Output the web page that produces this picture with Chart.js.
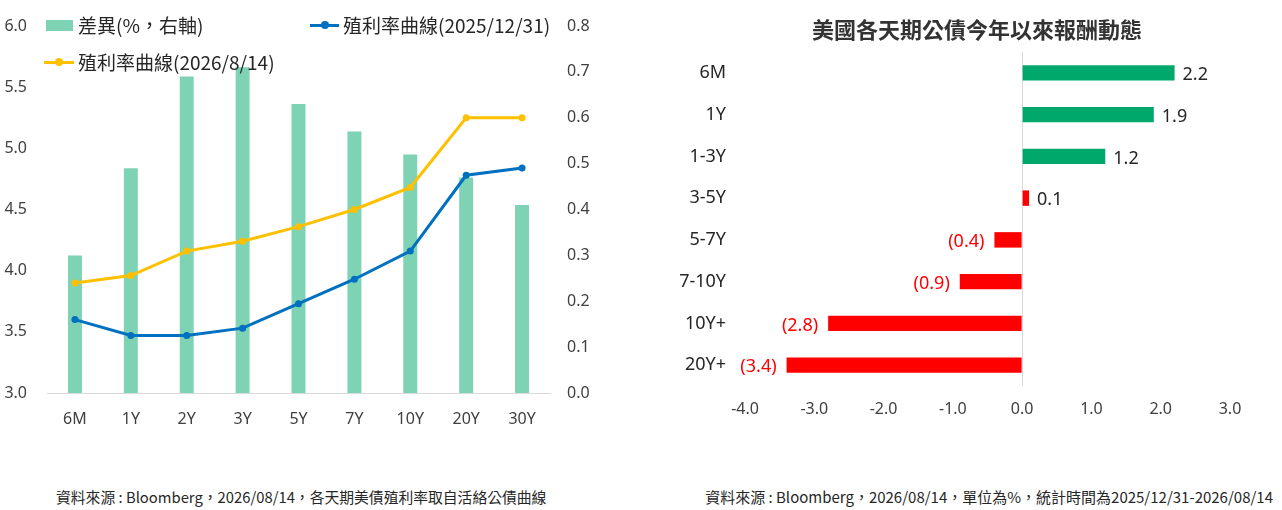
<!DOCTYPE html>
<html>
<head>
<meta charset="utf-8">
<script src="https://cdn.jsdelivr.net/npm/chart.js@4"></script>
<style>
  body { margin: 0; background: #fff; width: 1282px; height: 510px; overflow: hidden; position: relative;
         font-family: "Noto Sans CJK TC", sans-serif; }
  #leftBox { position: absolute; left: 0; top: 0; width: 600px; height: 440px; }
  #rightBox { position: absolute; left: 640px; top: 0; width: 642px; height: 440px; }
  .lg { position: absolute; font-size: 19px; color: #262626; line-height: 24px; height: 24px; white-space: nowrap; display: flex; align-items: center; }
  .sw { display: inline-block; width: 27px; height: 11px; background: #7fd3b5; margin-right: 5px; }
  .ln { display: inline-block; position: relative; width: 30px; height: 3px; margin-right: 4px; }
  .ln i { position: absolute; left: 11px; top: -2.5px; width: 8px; height: 8px; border-radius: 50%; }
  .title { position: absolute; top: 14px; left: 777px; width: 400px; text-align: center; font-size: 22px; font-weight: bold;
           color: #333; line-height: 28px; white-space: nowrap; }
  .foot { position: absolute; top: 486px; color: #262626; white-space: nowrap; line-height: 22px; }
</style>
</head>
<body>
<div id="leftBox"><canvas id="yieldChart"></canvas></div>
<div id="rightBox"><canvas id="returnChart"></canvas></div>

<div class="lg" style="left:46px; top:13px;"><span class="sw"></span>差異(%，右軸)</div>
<div class="lg" style="left:310px; top:13px;"><span class="ln" style="width:29px; background:#0070c0"><i style="background:#0070c0"></i></span>殖利率曲線(2025/12/31)</div>
<div class="lg" style="left:44px; top:50px;"><span class="ln" style="background:#ffc000"><i style="background:#ffc000"></i></span>殖利率曲線(2026/8/14)</div>

<div class="title">美國各天期公債今年以來報酬動態</div>

<div class="foot" style="left:56px; font-size:14.8px;">資料來源 : Bloomberg，2026/08/14，各天期美債殖利率取自活絡公債曲線</div>
<div class="foot" style="right:9px; font-size:15px;">資料來源 : Bloomberg，2026/08/14，單位為%，統計時間為2025/12/31-2026/08/14</div>

<script>
// ---- 左圖資料 ----
const tenors = ['6M', '1Y', '2Y', '3Y', '5Y', '7Y', '10Y', '20Y', '30Y'];
const yield20251231 = [3.60, 3.47, 3.47, 3.53, 3.73, 3.93, 4.16, 4.78, 4.84];
const yield20260814 = [3.90, 3.96, 4.16, 4.24, 4.36, 4.50, 4.68, 5.25, 5.25];
const spread = [0.30, 0.49, 0.69, 0.71, 0.63, 0.57, 0.52, 0.47, 0.41];

// ---- 右圖資料 ----
const buckets = ['6M', '1Y', '1-3Y', '3-5Y', '5-7Y', '7-10Y', '10Y+', '20Y+'];
const ytdReturn = [2.2, 1.9, 1.2, 0.1, -0.4, -0.9, -2.8, -3.4];

const NUM_FONT = '"Noto Sans", "Noto Sans CJK TC", sans-serif';

/* =====================殖利率曲線===================== */
new Chart(document.getElementById('yieldChart'), {
  type: 'bar',
  data: {
    labels: tenors,
    datasets: [
      {
        type: 'line', label: '殖利率曲線(2025/12/31)', data: yield20251231, yAxisID: 'y',
        borderColor: '#0070c0', backgroundColor: '#0070c0', borderWidth: 3,
        pointRadius: 3.5, pointBackgroundColor: '#0070c0', pointBorderWidth: 0, order: 1
      },
      {
        type: 'line', label: '殖利率曲線(2026/8/14)', data: yield20260814, yAxisID: 'y',
        borderColor: '#ffc000', backgroundColor: '#ffc000', borderWidth: 3,
        pointRadius: 3.5, pointBackgroundColor: '#ffc000', pointBorderWidth: 0, order: 2
      },
      {
        label: '差異(%，右軸)', data: spread, yAxisID: 'y1',
        backgroundColor: '#7fd3b5', categoryPercentage: 1, barPercentage: 0.25, order: 3
      }
    ]
  },
  options: {
    responsive: true, maintainAspectRatio: false, animation: false,
    layout: { padding: { top: 26, left: 0, right: 0, bottom: 0 } },
    plugins: { legend: { display: false }, tooltip: { enabled: false } },
    scales: {
      x: {
        grid: { display: false }, border: { color: '#d9d9d9' },
        ticks: { color: '#404040', font: { family: NUM_FONT, size: 16 }, padding: 9 },
        afterFit: s => { s.height = 47; }
      },
      y: {
        position: 'left', min: 3, max: 6,
        grid: { display: false }, border: { display: false },
        ticks: { stepSize: 0.5, color: '#404040', font: { family: NUM_FONT, size: 16 }, padding: 12,
                 callback: v => v.toFixed(1) },
        afterFit: s => { s.width = 47; }
      },
      y1: {
        position: 'right', min: 0, max: 0.8,
        grid: { display: false }, border: { display: false },
        ticks: { stepSize: 0.1, color: '#404040', font: { family: NUM_FONT, size: 16 }, padding: 9,
                 callback: v => v.toFixed(1) },
        afterFit: s => { s.width = 50; }
      }
    }
  }
});

/* =====================報酬動態===================== */
// 標籤：正值放在長條右邊，負值用括號、紅字放在左邊
const barLabels = {
  id: 'barLabels',
  afterDatasetsDraw(chart) {
    const c = chart.ctx;
    const meta = chart.getDatasetMeta(0);
    c.save();
    c.font = '18px ' + NUM_FONT;
    c.textBaseline = 'middle';
    meta.data.forEach((bar, i) => {
      const v = ytdReturn[i];
      if (v >= 0) {
        c.fillStyle = '#262626'; c.textAlign = 'left';
        c.fillText(v.toFixed(1), bar.x + 8, bar.y + 2);
      } else {
        c.fillStyle = '#ff0000'; c.textAlign = 'right';
        c.fillText('(' + Math.abs(v).toFixed(1) + ')', bar.x - 10, bar.y + 2);
      }
    });
    c.restore();
  }
};

const returnColors = ['#00a86b', '#00a86b', '#00a86b', '#ff0000', '#ff0000', '#ff0000', '#ff0000', '#ff0000'];

new Chart(document.getElementById('returnChart'), {
  type: 'bar',
  data: {
    labels: buckets,
    datasets: [{
      data: ytdReturn, backgroundColor: returnColors,
      categoryPercentage: 1, barPercentage: 0.37
    }]
  },
  options: {
    indexAxis: 'y',
    responsive: true, maintainAspectRatio: false, animation: false,
    layout: { padding: { top: 52, left: 0, right: 52, bottom: 0 } },
    plugins: { legend: { display: false }, tooltip: { enabled: false } },
    scales: {
      x: {
        min: -4, max: 3,
        grid: { color: ctx => ctx.tick && ctx.tick.value === 0 ? '#d9d9d9' : 'rgba(0,0,0,0)', drawTicks: false },
        border: { display: false },
        ticks: { stepSize: 1, color: '#404040', font: { family: NUM_FONT, size: 16 }, padding: 14,
                 callback: v => v.toFixed(1) },
        afterFit: s => { s.height = 54; }
      },
      y: {
        grid: { display: false }, border: { display: false },
        ticks: { color: '#262626', font: { family: NUM_FONT, size: 18 }, padding: 11 },
        afterFit: s => { s.width = 105; }
      }
    }
  },
  plugins: [barLabels]
});
</script>
</body>
</html>
